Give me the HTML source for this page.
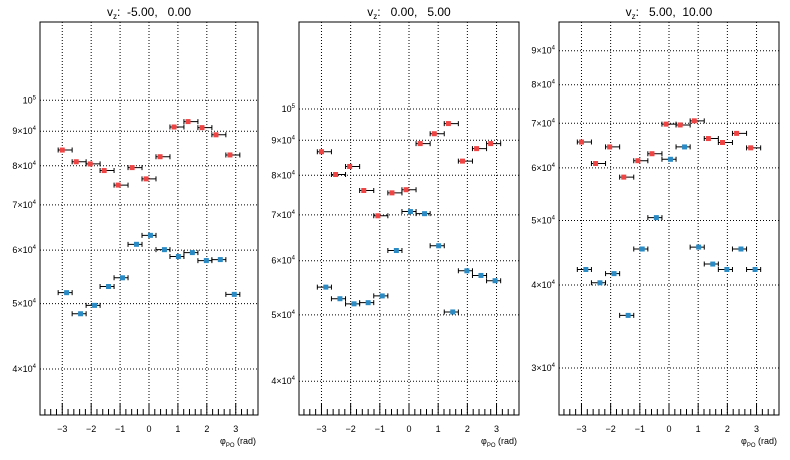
<!DOCTYPE html>
<html><head><meta charset="utf-8"><style>
body{margin:0;background:#fff;}
svg{display:block;font-family:"Liberation Sans",sans-serif;}
text{white-space:pre;}
</style></head><body>
<svg id="chart" width="790" height="460" viewBox="0 0 790 460" xmlns="http://www.w3.org/2000/svg"></svg>
<script>
const titles = ["-5.00,   0.00", " 0.00,   5.00", " 5.00,  10.00"];
const nBins = 13;
const xTicks = [-3,-2,-1,0,1,2,3];
const redP1 = [84.4,81.1,80.5,78.7,74.9,79.5,76.5,82.5,91.3,93.0,91.1,88.9,83.0];
const blueP1 = [51.9,48.3,49.7,53.0,54.6,61.2,63.1,60.1,58.7,59.5,57.9,58.1,51.6];
const redP2 = [86.6,80.2,82.4,76.0,69.8,75.4,76.2,89.0,92.0,95.2,83.9,87.5,89.0];
const blueP2 = [54.9,52.8,51.9,52.1,53.3,62.1,70.8,70.3,63.1,50.5,58.0,57.1,56.1];
const redP3 = [65.6,60.9,64.5,58.1,61.5,63.0,69.8,69.6,70.6,66.4,65.5,67.6,64.3];
const blueP3 = [42.2,40.3,41.6,36.0,45.3,50.5,61.8,64.5,45.6,43.0,42.2,45.3,42.2];
const yTicks1 = [40,50,60,70,80,90,100];
const yTicks2 = [40,50,60,70,80,90,100];
const yTicks3 = [30,40,50,60,70,80,90];
const yRanges = [[34.2,130.6],[35.7,134],[25.5,99.4]];

const panels = [
 {x0:40,x1:258,red:redP1,blue:blueP1,ticks:yTicks1},
 {x0:299,x1:519,red:redP2,blue:blueP2,ticks:yTicks2},
 {x0:559,x1:779,red:redP3,blue:blueP3,ticks:yTicks3}
];
const svg = document.getElementById('chart');
const NS = "http://www.w3.org/2000/svg";
function mk(tag, attrs, parent){const e=document.createElementNS(NS,tag);for(const k in attrs)e.setAttribute(k,attrs[k]);(parent||svg).appendChild(e);return e;}
const y0=22,y1=415,XMIN=-3.77,XMAX=3.77;
const bw = 2*Math.PI/nBins;
panels.forEach((p,pi)=>{
  const g=mk('g',{});
  
  
  const [lo,hi]=yRanges[pi];
  const sx=v=>p.x0+(v-XMIN)/(XMAX-XMIN)*(p.x1-p.x0);
  const sy=v=>y1-(Math.log10(v)-Math.log10(lo))/(Math.log10(hi)-Math.log10(lo))*(y1-y0);
  xTicks.forEach(t=>{const l=mk('line',{x1:sx(t),x2:sx(t),y1:y0,y2:y1,stroke:'#000','stroke-dasharray':'1,2','stroke-width':1},g);
    });
  p.ticks.forEach(t=>{const yy=sy(t);const l=mk('line',{x1:p.x0,x2:p.x1,y1:yy,y2:yy,stroke:'#000','stroke-dasharray':'1,2','stroke-width':1},g);
    
    const tx=mk('text',{x:p.x0-4,y:yy+3,'font-size':9,'text-anchor':'end',fill:'#000'},g);
    
    if(t===100){tx.innerHTML='10<tspan font-size="6" dy="-4">5</tspan>';}
    else{tx.innerHTML=(t/10)+'×10<tspan font-size="6" dy="-4">4</tspan>';}
  });
  for(let v=-3.6;v<=3.61;v+=0.2){const r=Math.round(v*10)/10;const major=Math.abs(r-Math.round(r))<1e-6;
    mk('line',{x1:sx(r),x2:sx(r),y1:y1,y2:y1-(major?12:6),stroke:'#000','stroke-width':1},g);}
  xTicks.forEach(t=>{const tx=mk('text',{x:sx(t),y:432,'font-size':9,'text-anchor':'middle',fill:'#000'},g);
    
    tx.textContent=t<0?'\u2212'+(-t):String(t);});
  const fr=mk('rect',{x:p.x0,y:y0,width:p.x1-p.x0,height:y1-y0,fill:'none',stroke:'#000','stroke-width':1},g);
  
  const ti=mk('text',{x:(p.x0+p.x1)/2,y:16,'font-size':12,'text-anchor':'middle',fill:'#000'},g);
  
  ti.innerHTML='v<tspan font-size="8" dy="3">z</tspan><tspan dy="-3">:  '+titles[pi]+'</tspan>';
  const xt=mk('text',{x:p.x1-2,y:444,'font-size':9,'text-anchor':'end',fill:'#000'},g);
  
  xt.innerHTML='φ<tspan font-size="6" dy="3">PO</tspan><tspan dy="-3"> (rad)</tspan>';
  [['red',p.red,'#ee4444',-0.1],['blue',p.blue,'#2a8ac4',0.05]].forEach(([nm,arr,col,off])=>{
    arr.forEach((v,i)=>{
      const c=-Math.PI+bw*(i+0.5);
      const yy=sy(v);
      const eb=mk('path',{d:`M${sx(c-bw/2)},${yy}H${sx(c+bw/2)}M${sx(c-bw/2)},${yy-2.5}v5M${sx(c+bw/2)},${yy-2.5}v5`,stroke:'#000','stroke-width':1,fill:'none'},g);
      
      const m=mk('rect',{x:sx(c+off)-2.5,y:yy-2.5,width:5,height:5,fill:col},g);
      
    });
  });
});
</script>
</body></html>
